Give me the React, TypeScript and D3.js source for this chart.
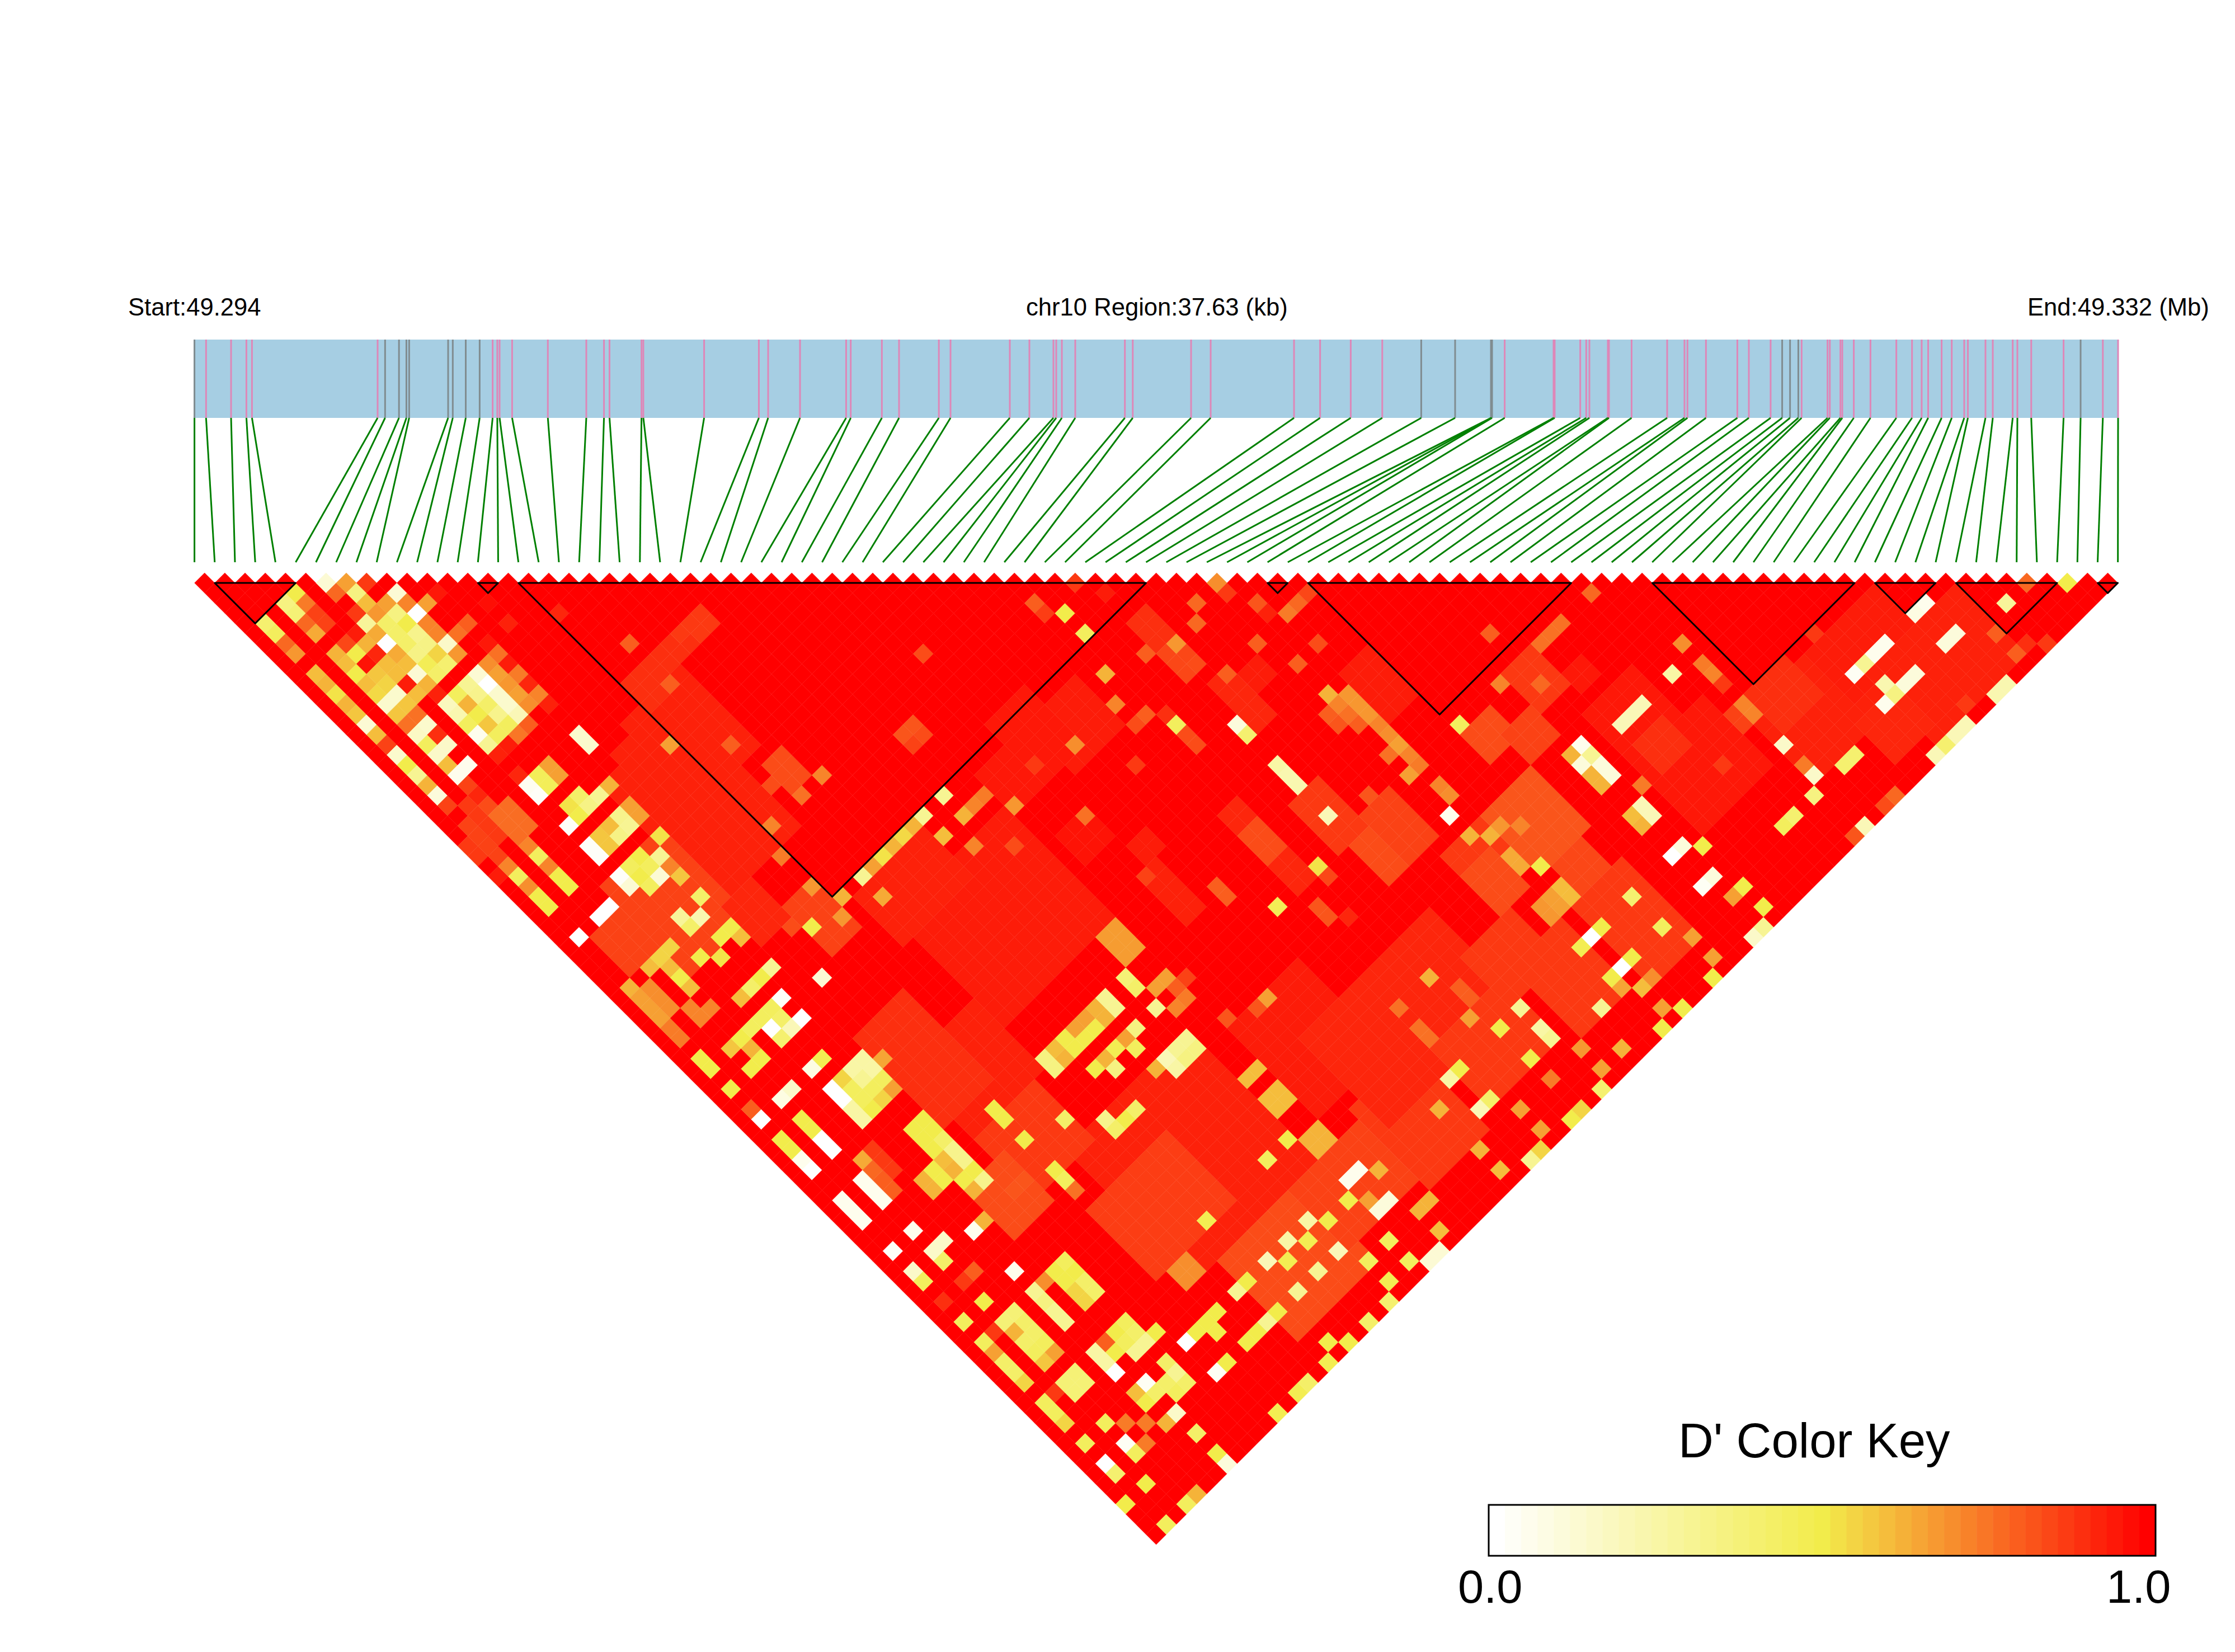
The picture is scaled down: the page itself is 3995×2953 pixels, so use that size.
import React from "react";
import * as d3 from "d3";

const snpKb = [0,.227,.716,1.016,1.125,3.583,3.729,4.001,4.146,4.2,4.962,5.053,5.307,5.579,5.833,5.924,5.969,6.214,6.913,7.665,8.011,8.119,8.745,8.781,9.97,11.041,11.222,11.846,12.748,12.838,13.447,13.783,14.562,14.79,15.95,16.333,16.803,16.858,16.968,17.23,18.201,18.355,19.496,19.879,21.51,22.02,22.619,23.236,23.998,24.661,25.362,25.373,25.384,25.631,26.587,26.609,27.109,27.226,27.288,27.649,27.671,28.113,28.809,29.148,29.206,29.568,30.182,30.407,30.833,31.059,31.213,31.375,31.439,31.946,31.991,32.198,32.235,32.46,32.786,33.292,33.599,33.788,33.915,34.178,34.376,34.62,34.692,35.036,35.179,35.569,35.66,35.931,36.564,36.897,37.332,37.63];
const graySnps = [0,6,7,8,9,10,11,12,13,48,49,50,51,52,69,70,71,93];
const blockStarts = [1,14,16,53,55,72,83,87,94];
const blockEnds = [5,15,47,54,68,82,86,92,95];

// [iFrom, iTo, jFrom, jTo, D'] : areas
const areas: number[][] = [
[10,17,31,42,.93],[12,16,30,36,.93],[14,19,29,36,.93],[18,28,52,62,.94],[62,68,81,87,.95],[70,78,84,90,.93],[52,56,76,81,.82],[48,51,76,80,.88],[15,26,72,84,.93],[13,20,76,82,.87],[11,17,60,66,.93],[38,44,78,84,.92],[29,35,74,82,.94],[17,23,49,53,.93],[71,74,83,86,.9],[76,82,84,88,.94],[78,86,88,94,.93],[75,78,90,93,.92],[19,23,27,28,.9],[16,18,27,29,.9],[1,1,26,29,.86],[0,0,27,28,.88],[2,2,25,28,.88],[3,3,26,26,.84],[3,4,27,29,.77],[5,5,62,64,.88],
];
// narrower strips seen on top of those areas
const strips: number[][] = [
[5,10,36,44,.86],[10,14,56,64,.9],[11,16,67,72,.88],[17,24,85,92,.84],[24,30,85,90,.86],[31,36,84,91,.88],[38,44,85,90,.88],[46,50,85,91,.88],[52,56,85,92,.88],[32,37,78,86,.92],
[44,45,49,54,.9],[44,45,52,54,.85],[45,46,56,60,.92],[47,48,57,58,.94],[52,54,62,66,.94],[34,38,49,53,.94],[32,35,47,52,.95],[29,32,49,52,.95],[30,32,56,58,.96],[33,34,60,61,.94],[39,40,63,70,.92],[39,40,65,67,.84],[43,45,66,70,.88],[46,48,70,74,.86],[44,45,71,74,.84],[32,33,62,66,.93],
[60,62,70,73,.88],[63,64,73,74,.95],[62,66,76,80,.95],[63,65,80,82,.9],[55,57,71,73,.84],[57,59,73,75,.86],[48,50,78,81,.84],[53,55,82,84,.85],[44,48,82,86,.88],[8,11,69,73,.84],[19,20,38,40,.84],[10,12,43,46,.92],[13,15,46,50,.86],[2,6,38,41,.86],
];
const finerCells: number[][] = [
[45,54,.84],[35,52,.7],[32,51,.88],[37,56,.88],[32,56,.76],[47,69,.82],[35,66,.8],[35,67,.8],[39,72,.82],[39,73,.82],[40,74,.92],[32,62,.86],[61,72,.78],[66,85,.88],[77,83,.88],[86,92,.8],[86,94,.8],[87,94,.9],[88,95,.88],[81,94,.88],[51,77,.62],[52,77,.68],[53,78,.72],[12,47,.84],[10,71,.82],[11,71,.82],
];

// [i, j, D'] : single cells
const cells: number[][] = [
[6,7,.12],[7,8,.66],[8,9,.88],[4,6,.5],[6,8,.78],[7,9,.35],[9,11,.12],[11,13,.95],[3,6,.35],[4,7,.74],[7,10,.6],[8,11,.66],[9,12,.72],[10,13,.66],[13,16,.97],
[3,7,.38],[4,8,.86],[6,10,.88],[7,11,.68],[8,12,.35],[9,13,0],[16,20,.92],[1,6,.4],[3,8,.78],[4,9,.86],[6,11,.28],[7,12,.42],[8,13,.5],[9,14,.72],[11,16,.8],[13,18,.93],
[1,7,.45],[3,9,.64],[5,11,.94],[6,12,.64],[7,13,.42],[8,14,.32],[9,15,.72],[10,16,.76],[1,8,.78],[4,11,.85],[5,12,.62],[6,13,0],[7,14,.42],[8,15,.34],[9,16,.15],[11,18,.95],[18,25,.8],
[1,9,.68],[3,11,.62],[4,12,.5],[5,13,.92],[6,14,.64],[7,15,.34],[8,16,.55],[9,17,.68],[11,19,.76],[3,12,.6],[4,13,.96],[5,14,.6],[6,15,.6],[7,16,.47],[8,17,.4],[10,19,.7],[11,20,.94],
[1,11,.6],[3,13,.5],[4,14,.58],[5,15,.6],[6,16,.12],[7,17,.42],[9,19,.12],[10,20,.66],[11,21,.74],[1,12,.62],[3,14,.6],[4,15,.55],[5,16,.94],[6,17,.62],[8,19,.3],[9,20,0],[10,21,.68],[11,22,.92],
[1,13,.52],[3,15,.54],[4,16,.14],[5,17,.6],[6,18,.93],[7,19,.45],[8,20,.32],[9,21,.14],[10,22,.66],[11,23,.72],[1,14,.62],[3,16,.14],[4,17,.58],[6,19,.18],[7,20,.62],[8,21,.42],[9,22,.14],[10,23,.7],[11,24,.93],
[1,15,.58],[3,17,.58],[4,18,.76],[6,20,.22],[7,21,.5],[8,22,.32],[9,23,.2],[1,16,.12],[1,17,.6],[1,18,.86],[1,19,.14],[1,20,.5],[1,21,.3],[1,22,.62],[1,23,.1],[1,24,.86],
[3,18,.76],[3,19,.16],[3,20,.45],[3,21,.15],[3,22,.6],[3,23,.05],[3,24,.86],[3,25,.92],[4,19,.14],[4,20,.9],[4,21,.15],[4,23,.05],[6,21,.45],[6,22,.05],[6,23,.3],[7,22,.58],[7,23,.45],[8,23,.45],[10,23,.7],
[6,24,.93],[7,24,.94],[8,24,.75],[9,24,.8],[11,27,.14],[11,28,.14],[7,27,.46],[7,28,.46],[8,28,.66],[8,27,.66],[6,27,.04],[6,28,.02],[6,26,.92],
[8,30,.42],[7,30,.52],[8,31,.34],[9,31,.3],[10,31,.62],[7,31,.5],[6,31,.02],[9,33,.32],[8,33,.6],[9,34,.3],[8,34,.34],[7,33,.58],[7,34,.58],[10,34,.66],[10,33,.66],[6,33,.02],[6,34,.02],[10,36,.52],
[8,36,.5],[8,37,.45],[9,37,.3],[8,38,.12],[7,36,.45],[7,37,.5],[6,36,.02],[6,37,.12],[7,38,.45],[9,39,.58],[9,38,.72],[9,41,.42],[7,41,.28],[8,42,.22],[7,42,.42],[4,37,0],[3,37,0],[1,37,0],
[1,33,.5],[1,34,.5],[1,32,.7],[1,31,.45],[1,30,.72],[3,33,.5],[3,34,.5],[3,32,.72],[3,31,.45],[3,30,.72],[0,30,.94],
[7,45,.52],[6,44,.5],[9,44,.5],[8,44,.5],[9,45,.6],[9,48,.3],[8,48,.5],[7,48,.42],[6,48,.6],[8,50,.02],[11,51,.12],[8,52,0],[7,52,.2],[6,51,0],[6,52,.4],[6,50,.45],[7,50,.45],[7,51,.42],[5,50,.45],[4,50,.5],[3,50,.58],[4,51,.62],[4,52,.5],[3,52,.5],[1,49,.5],
[4,44,.5],[4,43,.6],[4,45,.6],[1,42,.62],[5,42,.55],[4,42,.55],[3,42,.6],[2,43,.7],[2,44,.7],[2,45,.7],[1,43,.66],[1,44,.66],[1,45,.66],[1,46,.74],[1,47,.74],[4,47,.72],[3,47,.72],[3,46,.72],
[23,27,.88],[22,27,.88],[23,28,.88],[21,27,.88],[22,28,.88],[18,29,.8],[21,41,.72],[19,41,.76],[16,41,.72],[15,43,.74],[18,35,.8],[15,32,.66],[15,46,.68],[13,48,.5],[18,39,.84],
[41,45,.5],[41,47,.45],[40,43,.8],[40,44,.87],[43,44,.88],[44,46,.94],[40,50,.62],[39,52,.72],[50,51,.7],[50,52,.88],[48,51,.78],[47,52,.78],[51,54,.82],[51,55,.93],[52,56,.74],[53,56,.78],[54,56,.85],[45,52,.68],[43,51,.8],[49,56,.8],[52,59,.84],[50,59,.8],[46,56,.8],
[41,55,.9],[41,56,.45],[41,57,.84],[41,58,.84],[40,54,.8],[39,54,.84],[44,59,.1],[44,60,.4],[50,62,.62],[50,63,.72],[51,63,.68],[51,64,.68],[51,65,.68],[51,66,.72],[51,67,.7],[51,68,.66],[51,69,.72],[51,70,.74],[49,63,.8],[49,64,.82],[50,64,.76],[50,65,.8],[50,68,.76],[50,70,.66],[55,70,.45],[51,72,.72],[51,73,.7],[50,74,.05],[50,76,.62],
[44,63,.25],[44,65,.22],[44,64,.22],[44,68,.2],[41,70,.52],[41,71,.85],[37,70,.47],[26,48,.3],[24,48,.3],[23,48,.62],[22,48,.54],[21,48,.62],[20,48,.52],[19,48,.66],[18,48,.3],[26,50,.62],[27,50,.72],[28,50,.74],[29,52,.68],[24,50,.6],[25,52,.72],[27,54,.84],[18,50,.64],[16,48,.62],[15,49,.68],
[28,63,.67],[27,63,.67],[28,64,.67],[27,64,.67],[28,65,.67],[27,65,.67],[26,66,.38],[26,67,.42],[27,68,.66],[28,68,.66],[26,69,.3],[28,69,.8],[27,70,.72],[28,70,.74],[29,69,.86],[24,66,.3],[24,67,.3],[23,66,.62],[23,67,.62],[22,66,.66],[22,67,.5],[21,66,.66],[21,67,.5],[20,66,.5],[20,67,.5],[19,66,.6],[19,67,.62],[18,66,.35],[18,67,.35],
[24,69,.35],[23,69,.66],[23,70,.45],[22,69,.48],[21,69,.62],[21,70,.35],[20,69,.5],[26,72,.3],[26,73,.35],[25,72,.3],[25,73,.35],[24,72,.2],[24,73,.25],[23,72,.62],[29,73,.82],[31,74,.82],[32,74,.66],[41,81,.62],[42,83,.8],[42,84,.8],[41,85,.66],[38,83,.76],[38,84,.76],[38,81,.76],[38,87,.5],[28,77,.5],[27,43,.82],[28,44,.84],[28,43,.82],[27,44,.86],[32,40,.84],
[68,70,.78],[65,70,.76],[64,70,.76],[63,70,.76],[70,77,.7],[68,78,.25],[70,79,.74],[70,80,.72],[70,81,.88],[61,67,.8],[59,70,.72],[65,78,.2],[64,78,.2],[63,78,.2],[70,83,.72],[70,84,.72],[69,83,.86],[69,84,.86],
[60,77,.05],[60,78,.3],[60,79,.1],[60,80,.1],[59,77,.62],[59,78,.1],[59,79,.62],[59,80,.62],[61,82,.74],[60,83,.2],[60,84,.2],[59,83,.6],[59,84,.62],[80,87,.05],[79,87,.05],[78,87,.3],[77,87,.03],[84,87,.05],[83,87,.08],[84,90,.1],[83,90,.1],[80,90,.1],[79,90,.1],[78,90,.35],[77,90,.05],[78,89,.22],[88,91,.28],[84,95,.22],[83,95,.22],[80,95,.2],[79,95,.2],[78,95,.4],[77,95,.2],[92,93,.5],[90,91,.78],
[70,87,.15],[70,89,.74],[70,90,.15],[69,91,.35],[73,91,.4],[72,91,.4],[67,91,.4],[66,91,.45],[70,95,.2],[69,95,.82],[73,95,.78],[72,95,.84],[60,87,.1],[59,87,0],[61,88,.5],[60,90,.1],[59,90,.03],[61,92,.5],[60,92,.66],[61,94,.5],[60,95,.3],[59,95,.15],
[52,81,.5],[51,79,.64],[51,80,.64],[52,83,.6],[52,84,.6],[51,83,.66],[51,84,.66],[50,83,.68],[50,84,.68],[52,87,.5],[51,87,0],[50,87,.48],[55,87,.4],[52,90,.5],[51,90,0],[50,90,.5],[50,91,.65],[51,92,.6],[52,92,.7],[55,90,.45],[56,92,.66],[56,94,.66],[55,95,.5],[51,94,.66],[52,95,.5],[50,95,.5],[44,87,.3],[48,91,.3],[44,89,.25],[44,90,.3],[42,87,.5],[42,90,.5],[45,92,.68],[47,94,.62],
[1,50,.5],[1,52,.5],[1,55,0],[1,54,.8],[1,57,.5],[1,58,.5],[3,52,.5],[4,52,.5],[3,55,.08],[4,55,.15],[6,55,.08],[7,55,.48],[3,57,.5],[3,58,.5],[3,59,0],[3,60,0],[1,59,.05],[1,60,0],[6,57,0],[6,58,0],
[8,57,.25],[9,58,.25],[9,57,.25],[10,58,.65],[8,58,.3],[9,59,.45],[8,59,.45],[7,58,.45],[7,59,.45],[8,60,.55],[7,60,.5],[6,59,.25],[6,60,.25],[7,57,.55],[9,60,.66],
[9,63,.5],[8,63,.5],[9,64,.5],[8,64,.5],[9,65,.42],[8,65,.5],[9,66,.32],[8,66,.6],[9,67,.32],[7,66,.5],[8,67,.62],[7,67,.5],[6,66,.62],[6,67,.62],[8,68,.5],[9,68,.5],[9,69,.32],[8,69,.62],
[3,63,.05],[3,64,.05],[3,65,.05],[1,63,.05],[1,64,.05],[1,65,.05],[4,62,.64],[4,63,.78],[4,64,.8],[4,65,.8],[3,68,.05],[1,68,.02],[4,70,.15],[3,70,.15],[3,71,.42],[1,70,.15],[1,71,.45],[4,73,.8],[3,73,.88],[1,73,.9],[1,75,.45],[3,75,.5],[6,71,.05],[7,71,.62],[6,75,.05],[6,77,.3],[6,79,.3],[6,78,.35],[6,80,.3],
[4,77,.38],[4,78,.42],[4,79,.42],[4,80,.45],[4,81,.66],[3,77,.38],[3,78,.62],[3,79,.42],[3,80,.45],[3,81,.58],[2,77,.88],[1,77,.45],[1,78,.66],[1,79,.42],[1,80,.42],[1,81,.55],
[9,77,.45],[9,78,.5],[9,79,.42],[9,80,.42],[8,77,.5],[8,78,.5],[8,79,.55],[8,80,.55],[7,77,.7],[6,83,.25],[6,84,.25],[6,85,0],[9,83,.45],[9,84,.42],[9,85,.3],[10,85,.5],[8,83,.5],[8,84,.45],[8,85,.3],[7,83,.8],[7,84,.5],[7,87,.03],[7,88,.42],[6,87,.6],[6,88,.5],
[4,83,.38],[3,83,.38],[4,84,.38],[3,84,.38],[2,83,.88],[1,83,.45],[1,84,.45],[1,85,.55],[3,87,.45],[1,87,.45],[3,89,.03],[3,90,.45],[1,89,0],[1,90,.4],[2,92,.5],[0,92,.5],[1,95,.45],
[13,66,.5],[13,67,.5],[13,69,.5],[13,72,.5],[13,73,.45],[13,74,.76],[16,70,.42],[18,72,.32],[18,73,.42],[19,73,.5],[20,73,.42],
[28,79,.6],[27,79,.6],[28,80,.6],[27,80,.6],[27,77,.6],[28,77,.6],[28,83,.62],[27,83,.62],[28,84,.62],[27,84,.62],[26,82,.5],[24,82,.45],[18,82,.48],[15,83,.7],[14,83,.7],[15,84,.7],[14,84,.7],
[28,87,.05],[27,87,.05],[29,88,.62],[28,90,.1],[27,90,.1],[27,89,.66],[26,88,.5],[30,92,.62],[29,92,.62],[23,87,.25],[24,88,.5],[21,87,.25],[22,88,.48],[19,87,.2],[20,88,.48],[23,90,.2],[21,90,.3],[19,90,.3],[16,90,.3],[17,90,.5],[24,92,.45],[26,92,.45],
[26,94,.45],[24,94,.48],[23,95,.4],[21,95,.42],[19,95,.5],[18,94,.5],[17,95,.48],[15,95,.42],[14,95,.48],[12,95,.48],[28,95,.12],[27,95,.12],[29,94,.6],[41,95,.5],[42,95,.55],[44,95,.4],[37,95,.3],[38,95,.55],[42,92,.74],[45,94,.66],
[37,90,.2],[38,90,.42],[37,87,.25],[38,87,.5],[35,92,.62],[35,94,.6],[35,88,.62],[39,92,.66],[39,94,.66],
[11,87,0],[13,87,.5],[13,88,.5],[12,87,.5],[14,87,.5],[16,87,.3],[17,87,.5],[14,90,.5],[15,90,.5],[9,88,.3],[9,87,.42],[9,89,.42],[8,88,.42],[8,89,.45],[11,90,.03],[12,90,.5],[7,90,.15],[7,92,.42],[7,94,.5],[7,95,.1],[6,90,.62],[3,95,.45],[4,95,.62],[4,88,.74],[5,89,.74],[4,90,.74],
];

const x0 = 347.6, step = 36.19, top = 1042;
const n = snpKb.length;
const kbX = d3.scaleLinear().domain([0, 37.63]).range([347.6, 3786]);
const idxX = d3.scaleLinear().domain([0, n - 1]).range([x0, x0 + step * (n - 1)]);
const sepY = d3.scaleLinear().domain([1, 2]).range([top, top + step / 2]);
const color = d3.scaleLinear<string>().domain([0, 0.5, 1]).range(["#ffffff", "#f2ec4b", "#ff0000"]);
const keyX = d3.scaleLinear().domain([0, 41]).range([2661, 3853]);

function buildMatrix() {
  const m = d3.range(n).map(() => d3.range(n).map(() => 1));
  for (const [a, b, c, d, v] of [...areas, ...strips]) for (let i = a; i <= b; i++) for (let j = c; j <= d; j++) m[i][j] = v;
  for (const [i, j, v] of [...finerCells, ...cells]) m[i][j] = v;
  return m;
}
const poly = d3.line();
const FONT = "'Liberation Sans', Arial, sans-serif";

export default function App() {
  const m = buildMatrix();
  const diamonds: React.ReactNode[] = [];
  for (let i = 0; i < n; i++)
    for (let j = i + 1; j < n; j++) {
      const cx = idxX((i + j) / 2), cy = sepY(j - i), h = step / 2;
      diamonds.push(
        <path key={`${i}-${j}`} fill={color(m[i][j])} stroke={color(m[i][j])} strokeWidth={0.4}
          d={poly([[cx - h, cy], [cx, cy - h], [cx + h, cy], [cx, cy + h]]) + "Z"} />
      );
    }
  return (
    <svg width={3995} height={2953} style={{ position: "absolute", left: 0, top: 0, background: "#fff" }}>
      <g fontFamily={FONT} fill="#000">
        <text x={229} y={564} fontSize={43.6}>Start:49.294</text>
        <text x={1834} y={564} fontSize={43.6}>chr10 Region:37.63 (kb)</text>
        <text x={3624} y={564} fontSize={43.6}>End:49.332 (Mb)</text>
      </g>
      <rect x={346} y={607} width={3441} height={140} fill="#a6cee3" />
      {snpKb.map((k, i) => (
        <line key={i} x1={kbX(k)} x2={kbX(k)} y1={607} y2={747} strokeWidth={3}
          stroke={graySnps.includes(i) ? "#808c90" : "#de87b8"} />
      ))}
      {snpKb.map((k, i) => (
        <line key={i} x1={kbX(k)} x2={idxX(i)} y1={747} y2={1005} strokeWidth={3} stroke="#008000" />
      ))}
      {diamonds}
      {blockStarts.map((s, b) => {
        const e = blockEnds[b];
        return (
          <path key={b} fill="none" stroke="#000" strokeWidth={3} strokeLinejoin="round"
            d={poly([[idxX(s), top], [idxX(e), top], [idxX((s + e) / 2), sepY(e - s + 1)]]) + "Z"} />
        );
      })}
      <g>
        {d3.range(41).map((k) => (
          <rect key={k} x={keyX(k)} y={2690} width={keyX(k + 1) - keyX(k) + 0.5} height={91} fill={color(k / 40)} />
        ))}
        <rect x={2661} y={2690} width={1192} height={91} fill="none" stroke="#000" strokeWidth={3} />
      </g>
      <g fontFamily={FONT} fill="#000">
        <text x={3000} y={2605} fontSize={87}>D' Color Key</text>
        <text x={2606} y={2865} fontSize={83}>0.0</text>
        <text x={3765} y={2865} fontSize={83}>1.0</text>
      </g>
    </svg>
  );
}
